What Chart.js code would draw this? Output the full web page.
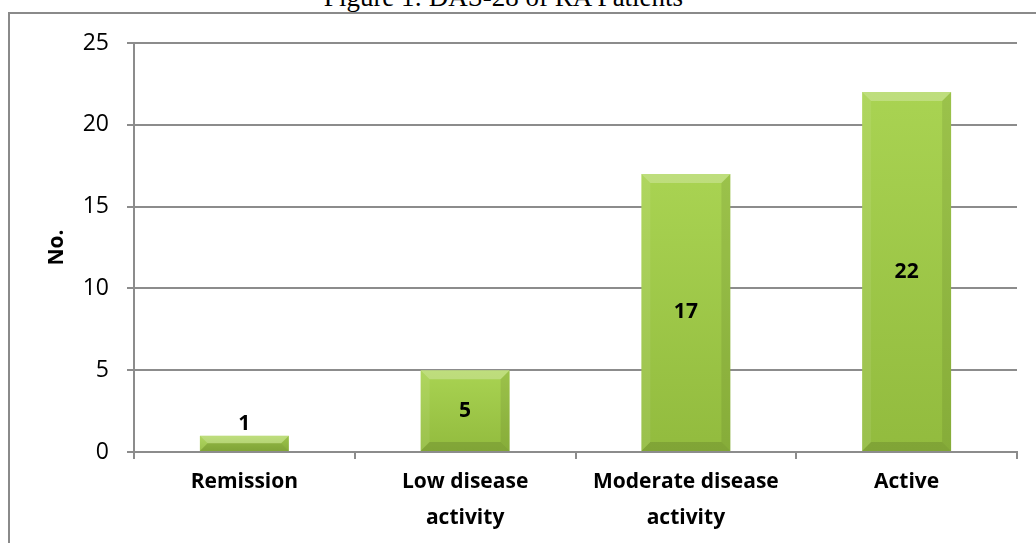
<!DOCTYPE html>
<html>
<head>
<meta charset="utf-8">
<script src="https://cdn.jsdelivr.net/npm/chart.js@4.4.1/dist/chart.umd.min.js"></script>
<style>
  html, body { margin: 0; padding: 0; background: #fff; overflow: hidden; }
  #frame { position: absolute; left: 8px; top: 12px; width: 1100px; height: 600px; border: 2px solid #8a8a8a; }
  #title { position: absolute; left: 0; width: 1007px; top: -16px; line-height: 27px; text-align: center;
           font-family: 'Liberation Serif', 'Times New Roman', serif; font-size: 27px; color: #000; white-space: nowrap; }
  #wrap { position: absolute; left: 0; top: 0; width: 1036px; height: 543px; }
</style>
</head>
<body>
<div id="frame"></div>
<div id="title">Figure 1: DAS-28 of RA Patients</div>
<div id="wrap"><canvas id="chart"></canvas></div>
<script>
const categorias = [['Remission'], ['Low disease', 'activity'], ['Moderate disease', 'activity'], ['Active']];
const pacientes = [1, 5, 17, 22];
const yTicks = [0, 5, 10, 15, 20, 25];

const fuente = "'Open Sans', 'DejaVu Sans', sans-serif";

// gradient per bar, top lighter, bottom darker
function relleno(ctx) {
    const chart = ctx.chart;
    if (!chart.chartArea || ctx.dataIndex === undefined) return '#9cc846';
    const y = chart.scales.y;
    const top = y.getPixelForValue(pacientes[ctx.dataIndex]);
    const base = y.getPixelForValue(0);
    const g = chart.ctx.createLinearGradient(0, top, 0, base);
    g.addColorStop(0, '#a9d352');
    g.addColorStop(1, '#92bb3e');
    return g;
}

// bevel look on the bars, using the bar elements from the library
const bisel = {
    id: 'bisel',
    afterDatasetsDraw(chart) {
        const ctx = chart.ctx;
        chart.getDatasetMeta(0).data.forEach(bar => {
            const p = bar.getProps(['x', 'y', 'base', 'width'], true);
            const l = p.x - p.width / 2, r = p.x + p.width / 2, t = p.y, b = p.base;
            const s = Math.min(9, (b - t) / 2);
            const poly = (pts, color) => {
                ctx.beginPath();
                ctx.moveTo(pts[0][0], pts[0][1]);
                pts.slice(1).forEach(q => ctx.lineTo(q[0], q[1]));
                ctx.closePath();
                ctx.fillStyle = color;
                ctx.fill();
            };
            ctx.save();
            poly([[l, t], [r, t], [r - s, t + s], [l + s, t + s]], 'rgba(255,255,255,0.25)');
            poly([[l, t], [l + s, t + s], [l + s, b - s], [l, b]], 'rgba(255,255,255,0.08)');
            poly([[r, t], [r - s, t + s], [r - s, b - s], [r, b]], 'rgba(0,0,0,0.08)');
            poly([[l, b], [l + s, b - s], [r - s, b - s], [r, b]], 'rgba(0,0,0,0.12)');
            ctx.restore();
        });
    }
};

// value labels: middle of the bar, or above when the bar is short
const etiquetas = {
    id: 'etiquetas',
    afterDatasetsDraw(chart) {
        const ctx = chart.ctx;
        ctx.save();
        ctx.font = 'bold 21px ' + fuente;
        ctx.fillStyle = '#000';
        ctx.textAlign = 'center';
        chart.getDatasetMeta(0).data.forEach((bar, i) => {
            const p = bar.getProps(['x', 'y', 'base'], true);
            if (p.base - p.y > 40) {
                ctx.textBaseline = 'middle';
                ctx.fillText(pacientes[i], p.x, (p.y + p.base) / 2);
            } else {
                ctx.textBaseline = 'bottom';
                ctx.fillText(pacientes[i], p.x, p.y - 1);
            }
        });
        ctx.restore();
    }
};

const data = {
    labels: categorias,
    datasets: [{
        data: pacientes,
        backgroundColor: relleno,
        borderWidth: 0,
        categoryPercentage: 1,
        barPercentage: 0.403
    }]
};

const config = {
    type: 'bar',
    data,
    plugins: [bisel, etiquetas],
    options: {
        responsive: false,
        animation: false,
        devicePixelRatio: 1,
        layout: { padding: { top: 43, right: 19, bottom: 0, left: 0 } },
        plugins: { legend: { display: false }, tooltip: { enabled: false }, title: { display: false } },
        scales: {
            x: {
                afterFit: s => { s.height = 91; },
                border: { color: '#8c8c8c', width: 2 },
                grid: { drawOnChartArea: false, drawTicks: true, tickLength: 7, color: '#8c8c8c', lineWidth: 2, offset: true },
                ticks: { color: '#000', font: { family: fuente, size: 21, weight: 'bold', lineHeight: 1.72 }, padding: 5, maxRotation: 0 }
            },
            y: {
                min: 0,
                max: 25,
                afterFit: s => { s.width = 134; },
                afterBuildTicks: s => { s.ticks = yTicks.map(v => ({ value: v })); },
                border: { color: '#8c8c8c', width: 2 },
                grid: { color: '#8c8c8c', lineWidth: 2, tickLength: 7 },
                ticks: { color: '#000', font: { family: fuente, size: 23 }, padding: 18 },
                title: { display: true, text: 'No.', color: '#000', font: { family: fuente, size: 21, weight: 'bold' }, padding: { top: 44, bottom: 0 } }
            }
        }
    }
};

var lienzo = document.getElementById('chart');
lienzo.width = 1036;
lienzo.height = 543;
var grafico = new Chart(lienzo, config);
</script>
</body>
</html>
